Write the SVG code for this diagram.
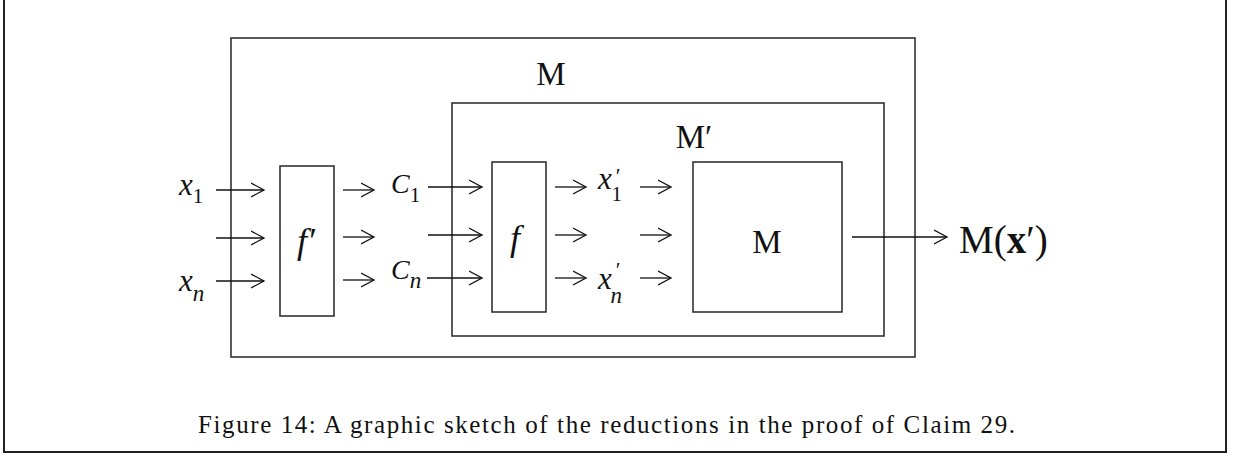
<svg xmlns="http://www.w3.org/2000/svg" width="1233" height="455" viewBox="0 0 1233 455">
<style>
.box{fill:none;stroke:#333;stroke-width:1.6}
.frame{fill:none;stroke:#222;stroke-width:2}
.ar{fill:none;stroke:#111;stroke-width:1.3}
.lbl{font-family:"Liberation Serif",serif;fill:#111}
.it{font-family:"Liberation Serif",serif;font-style:italic;fill:#111}
.cap{font-family:"Liberation Serif",serif;fill:#111;font-size:25px}
</style>
<defs>
<marker id="h" markerWidth="16" markerHeight="16" refX="13" refY="8" orient="auto" markerUnits="userSpaceOnUse">
<path d="M0,1 L13,8 L0,15" fill="none" stroke="#111" stroke-width="1.3"/>
</marker>
</defs>
<path class="frame" d="M4,0 V452 H1226 V0"/>
<g id="boxM"><rect class="box" x="231" y="38" width="684" height="319"/><text class="lbl" x="551" y="85" font-size="33" text-anchor="middle">M</text></g>
<g id="boxMp"><rect class="box" x="452" y="103" width="432" height="233"/><text class="lbl" x="694" y="148" font-size="33" text-anchor="middle">M′</text></g>
<g id="boxMinner"><rect class="box" x="693" y="162" width="149" height="150"/><text class="lbl" x="767" y="253" font-size="33" text-anchor="middle">M</text></g>
<g id="fprime"><rect class="box" x="280" y="166" width="54" height="150"/><text class="it" x="306" y="253" font-size="36" text-anchor="middle">f′</text></g>
<g id="f"><rect class="box" x="492" y="162" width="54" height="150"/><text class="it" x="515" y="250" font-size="36" text-anchor="middle">f</text></g>
<g id="labels">
<text class="it" x="179" y="195" font-size="31">x<tspan font-style="normal" font-size="21" dy="8">1</tspan></text>
<text class="it" x="179" y="291" font-size="31">x<tspan font-size="23" dy="10">n</tspan></text>
<text class="it" x="391" y="193" font-size="28">C<tspan font-style="normal" font-size="21" dy="9">1</tspan></text>
<text class="it" x="391" y="279" font-size="28">C<tspan font-size="23" dy="9">n</tspan></text>
<text class="it" x="598" y="189" font-size="31">x<tspan font-style="normal" font-size="22" dx="4" dy="-6">′</tspan><tspan font-style="normal" font-size="21" dx="-9" dy="18">1</tspan></text>
<text class="it" x="598" y="289" font-size="31">x<tspan font-style="normal" font-size="22" dx="4" dy="-12">′</tspan><tspan font-size="23" dx="-10" dy="26">n</tspan></text>
<text class="lbl" x="959" y="253" font-size="39">M(<tspan font-weight="bold">x</tspan>′)</text>
</g>
<g id="connectors" class="ar" marker-end="url(#h)">
<line x1="216" y1="190" x2="264" y2="190"/>
<line x1="216" y1="238" x2="264" y2="238"/>
<line x1="216" y1="281" x2="264" y2="281"/>
<line x1="343" y1="190" x2="374" y2="190"/>
<line x1="343" y1="237" x2="374" y2="237"/>
<line x1="343" y1="280" x2="374" y2="280"/>
<line x1="428" y1="187" x2="482" y2="187"/>
<line x1="428" y1="235" x2="482" y2="235"/>
<line x1="427" y1="278" x2="482" y2="278"/>
<line x1="555" y1="187" x2="586" y2="187"/>
<line x1="555" y1="235" x2="586" y2="235"/>
<line x1="555" y1="278" x2="586" y2="278"/>
<line x1="640" y1="187" x2="671" y2="187"/>
<line x1="640" y1="235" x2="671" y2="235"/>
<line x1="640" y1="278" x2="671" y2="278"/>
<line x1="852" y1="237" x2="947" y2="237"/>
</g>
<text class="cap" x="198" y="433" textLength="817" lengthAdjust="spacing">Figure 14: A graphic sketch of the reductions in the proof of Claim 29.</text>
</svg>
